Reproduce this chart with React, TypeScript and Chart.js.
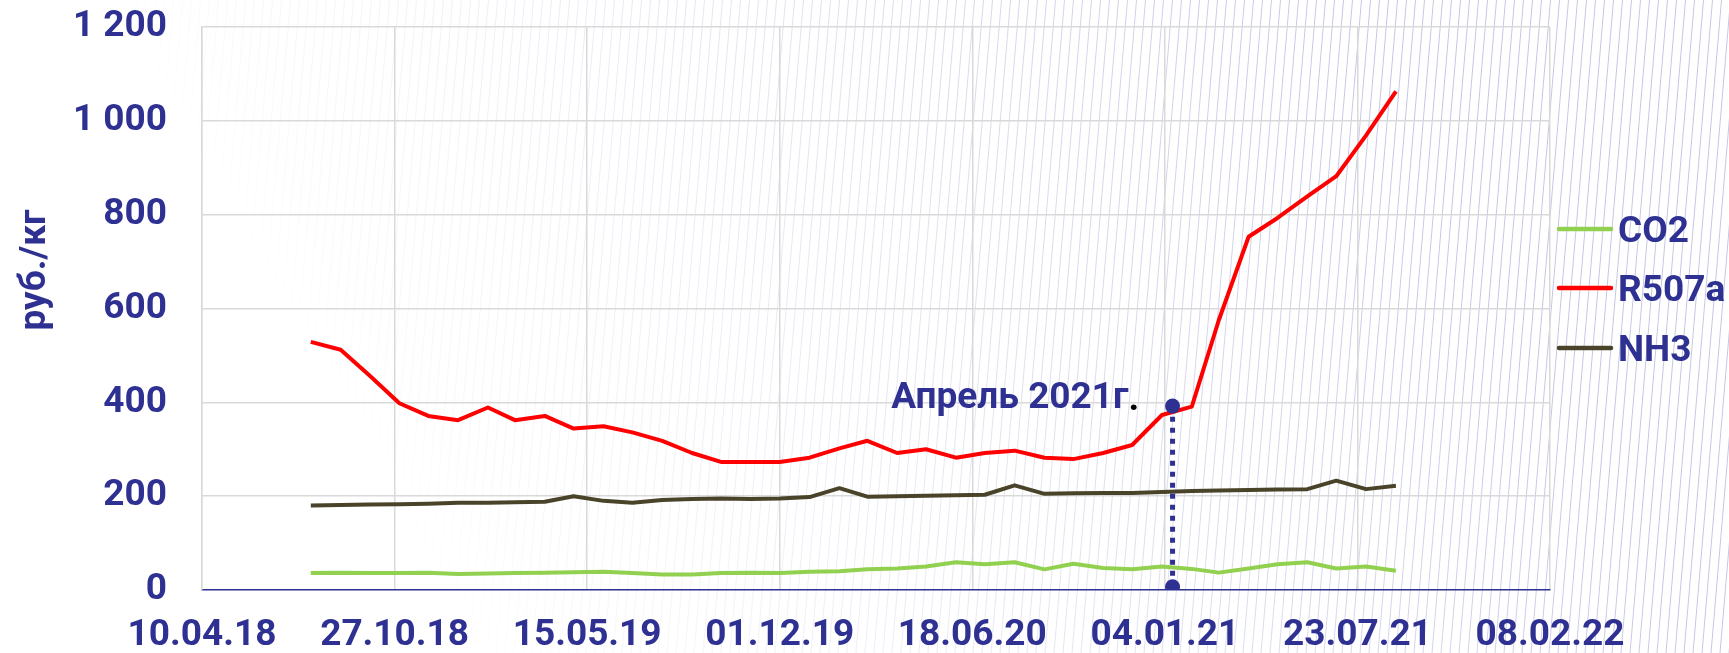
import React, { useEffect, useRef } from 'react';
import { Chart, registerables } from 'chart.js';

Chart.register(...registerables);

// ---------- data ----------
const MONTHS = [
  '01.08.18', '01.09.18', '01.10.18', '01.11.18', '01.12.18',
  '01.01.19', '01.02.19', '01.03.19', '01.04.19', '01.05.19', '01.06.19',
  '01.07.19', '01.08.19', '01.09.19', '01.10.19', '01.11.19', '01.12.19',
  '01.01.20', '01.02.20', '01.03.20', '01.04.20', '01.05.20', '01.06.20',
  '01.07.20', '01.08.20', '01.09.20', '01.10.20', '01.11.20', '01.12.20',
  '01.01.21', '01.02.21', '01.03.21', '01.04.21', '01.05.21', '01.06.21',
  '01.07.21', '01.08.21', '01.09.21',
];

const CO2 = [
  36, 37, 36, 36, 37, 34, 35, 36, 37, 38, 39, 36, 33, 33, 36, 37, 36, 39, 40,
  44, 46, 50, 59, 55, 59, 44, 56, 47, 44, 50, 45, 37, 46, 55, 59, 46, 50, 41,
];

const R507A = [
  529, 512, 457, 398, 371, 362, 389, 362, 371, 344, 349, 336, 318, 292, 273,
  273, 273, 282, 302, 318, 292, 300, 282, 292, 297, 282, 279, 292, 309, 373,
  391, 575, 753, 793, 839, 882, 969, 1063,
];

const NH3 = [
  180, 181, 182, 183, 184, 186, 186, 187, 188, 200, 190, 186, 192, 194, 195,
  194, 195, 198, 217, 199, 200, 201, 202, 203, 223, 205, 206, 207, 207, 209,
  211, 212, 213, 214, 215, 233, 215, 222,
];

const SERIES_NAMES = ['CO2', 'R507a', 'NH3'];
const SERIES_COLORS = ['#92D050', '#FF0000', '#494429'];

const X_TICK_LABELS = [
  '10.04.18', '27.10.18', '15.05.19', '01.12.19', '18.06.20', '04.01.21',
  '23.07.21', '08.02.22',
];
const X_TICK_STEP_DAYS = 200;

const Y_MIN = 0;
const Y_MAX = 1200;
const Y_STEP = 200;
const Y_TITLE = 'руб./кг';

const MARKER_DATE = '12.01.21';
const MARKER_VALUES = [7, 392];
const MARKER_LABEL = 'Апрель 2021г';

// ---------- helpers ----------
const NAVY = '#2E3192';
const GRID = '#D9D9D9';
const FONT_FAMILY = 'Roboto, "Noto Sans", sans-serif';
const FONT_SIZE = 37;

function toUtc(s: string): number {
  const [d, m, y] = s.split('.').map(Number);
  return Date.UTC(2000 + y, m - 1, d);
}
const ORIGIN = toUtc(X_TICK_LABELS[0]);
function dayOf(s: string): number {
  return Math.round((toUtc(s) - ORIGIN) / 86400000);
}
function fmtY(v: number): string {
  if (v >= 1000) {
    return `${Math.floor(v / 1000)} ${String(v % 1000).padStart(3, '0')}`;
  }
  return String(v);
}

const decorPlugin = {
  id: 'decor',
  beforeDraw(chart: any) {
    const { ctx, width, height } = chart;
    ctx.save();
    ctx.fillStyle = '#FFFFFF';
    ctx.fillRect(0, 0, width, height);
    const g = ctx.createLinearGradient(420, 620, 1380, 80);
    g.addColorStop(0, 'rgba(180,180,220,0)');
    g.addColorStop(0.45, 'rgba(180,180,220,0.3)');
    g.addColorStop(1, 'rgba(180,180,220,0.75)');
    ctx.strokeStyle = g;
    ctx.lineWidth = 1;
    const slope = 0.085;
    for (let x = -80; x < width + 20; x += 9) {
      ctx.beginPath();
      ctx.moveTo(x, height);
      ctx.lineTo(x + height * slope, 0);
      ctx.stroke();
    }
    ctx.restore();
  },
  afterDraw(chart: any) {
    const { ctx } = chart;
    const font = `bold ${FONT_SIZE}px ${FONT_FAMILY}`;
    ctx.save();
    // y axis title
    ctx.translate(36, 270);
    ctx.rotate(-Math.PI / 2);
    ctx.font = font;
    ctx.fillStyle = NAVY;
    ctx.textAlign = 'center';
    ctx.textBaseline = 'middle';
    ctx.fillText(Y_TITLE, 0, 0);
    ctx.restore();

    // legend
    ctx.save();
    ctx.font = font;
    ctx.textAlign = 'left';
    ctx.textBaseline = 'alphabetic';
    const legendX = chart.chartArea.right + 9;
    const legendBaselines = [242, 301, 361];
    const series = chart.data.datasets.filter((d: any) => !d.isMarker);
    series.forEach((ds: any, i: number) => {
      const base = legendBaselines[i];
      const cy = base - 13;
      ctx.strokeStyle = ds.borderColor;
      ctx.lineWidth = 4.5;
      ctx.lineCap = 'round';
      ctx.beginPath();
      ctx.moveTo(legendX, cy);
      ctx.lineTo(legendX + 52, cy);
      ctx.stroke();
      ctx.fillStyle = NAVY;
      ctx.fillText(ds.label, legendX + 59, base);
    });
    ctx.restore();

    // annotation text
    const idx = chart.data.datasets.findIndex((d: any) => d.isMarker);
    if (idx >= 0) {
      const meta = chart.getDatasetMeta(idx);
      const top = meta.data[1];
      if (top) {
        ctx.save();
        ctx.font = font;
        ctx.fillStyle = NAVY;
        ctx.textAlign = 'right';
        ctx.textBaseline = 'alphabetic';
        ctx.fillText(MARKER_LABEL, top.x - 44, top.y + 1.5);
        ctx.fillStyle = '#000000';
        ctx.textAlign = 'left';
        ctx.fillText('.', top.x - 44, top.y + 3.5);
        ctx.restore();
      }
    }
  },
};

export default function App() {
  const canvasRef = useRef<HTMLCanvasElement | null>(null);

  useEffect(() => {
    let chart: Chart | null = null;
    let cancelled = false;
    const build = () => {
      if (cancelled || !canvasRef.current) return;
      const xs = MONTHS.map(dayOf);
      const markerDay = dayOf(MARKER_DATE);
      const seriesValues = [CO2, R507A, NH3];
      const datasets: any[] = [
        {
          label: 'marker',
          isMarker: true,
          data: MARKER_VALUES.map((v) => ({ x: markerDay, y: v })),
          borderColor: NAVY,
          borderWidth: 5,
          borderDash: [5, 6],
          borderCapStyle: 'butt',
          pointRadius: 7.5,
          pointBackgroundColor: NAVY,
          pointBorderWidth: 0,
          order: -1,
        },
        ...seriesValues.map((vals, i) => ({
          label: SERIES_NAMES[i],
          data: vals.map((v, j) => ({ x: xs[j], y: v })),
          borderColor: SERIES_COLORS[i],
          backgroundColor: SERIES_COLORS[i],
          borderWidth: 4,
          pointRadius: 0,
          tension: 0,
          borderJoinStyle: 'round',
        })),
      ];
      const tickFont = { family: FONT_FAMILY, size: FONT_SIZE, weight: 'bold' as const };
      chart = new Chart(canvasRef.current, {
        type: 'line',
        data: { datasets },
        plugins: [decorPlugin],
        options: {
          responsive: false,
          animation: false,
          events: [],
          layout: { padding: { left: 75, right: 179, top: 27, bottom: 0 } },
          plugins: {
            legend: { display: false },
            tooltip: { enabled: false },
          },
          scales: {
            x: {
              type: 'linear',
              min: 0,
              max: X_TICK_STEP_DAYS * (X_TICK_LABELS.length - 1),
              ticks: {
                stepSize: X_TICK_STEP_DAYS,
                autoSkip: false,
                maxRotation: 0,
                callback: (_v: any, i: number) => X_TICK_LABELS[i],
                font: tickFont,
                color: NAVY,
                padding: 24,
              },
              grid: { color: GRID, lineWidth: 1.5, drawTicks: false },
              border: { display: true, color: NAVY, width: 1.5 },
              afterFit: (s: any) => {
                s.height = 63;
              },
            },
            y: {
              min: Y_MIN,
              max: Y_MAX,
              ticks: {
                stepSize: Y_STEP,
                callback: (v: any) => fmtY(Number(v)),
                font: tickFont,
                color: NAVY,
                padding: 35,
              },
              grid: {
                color: (c: any) => (c.tick && c.tick.value === 0 ? 'rgba(0,0,0,0)' : GRID),
                lineWidth: 1.5,
                drawTicks: false,
              },
              border: { display: true, color: GRID, width: 1.5 },
              afterFit: (s: any) => {
                s.width = 127;
                s.paddingTop = 0;
                s.paddingBottom = 0;
              },
            },
          },
        } as any,
      });
    };
    const fontsReady = (document as any).fonts
      ? (document as any).fonts.load(`bold ${FONT_SIZE}px Roboto`).catch(() => null)
      : Promise.resolve();
    fontsReady.then(build);
    return () => {
      cancelled = true;
      if (chart) chart.destroy();
    };
  }, []);

  return (
    <div style={{ position: 'fixed', left: 0, top: 0, width: 1729, height: 653, background: '#fff' }}>
      <canvas ref={canvasRef} width={1729} height={653} style={{ display: 'block' }} />
    </div>
  );
}
